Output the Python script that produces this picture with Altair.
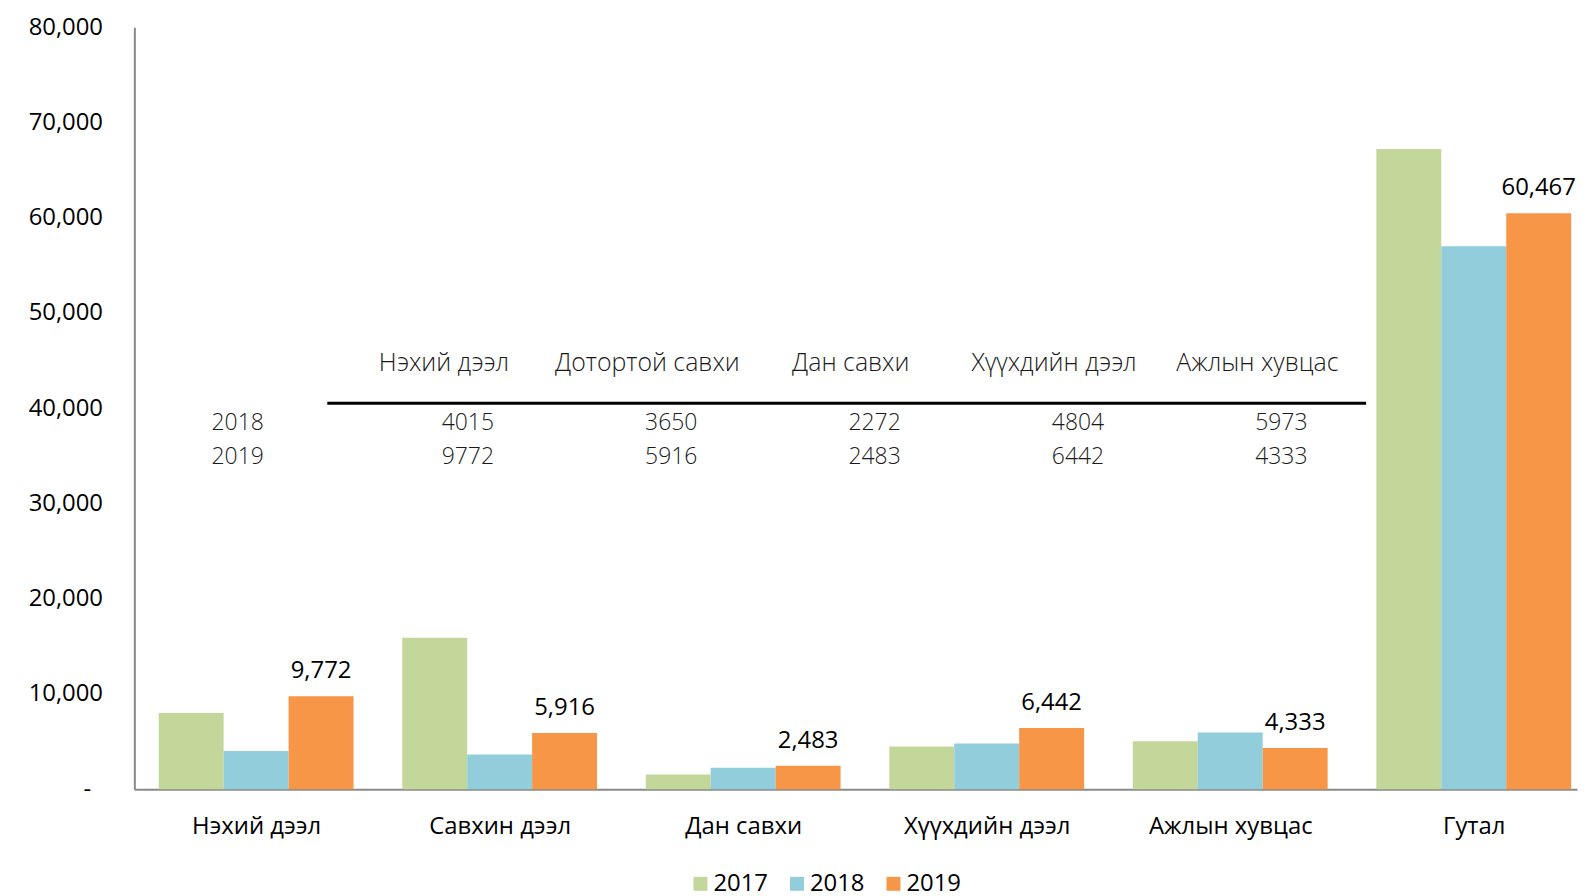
import altair as alt
import pandas as pd
import json

# ---------------- data ----------------
categories = ["Нэхий дээл", "Савхин дээл", "Дан савхи", "Хүүхдийн дээл", "Ажлын хувцас", "Гутал"]
years = ["2017", "2018", "2019"]
v2017 = [8000, 15900, 1550, 4500, 5050, 67200]
v2018 = [4015, 3650, 2272, 4804, 5973, 57000]
v2019 = [9772, 5916, 2483, 6442, 4333, 60467]
colors = ["#c4d79b", "#92cddc", "#f79646"]

table_headers = ["Нэхий дээл", "Дотортой савхи", "Дан савхи", "Хүүхдийн дээл", "Ажлын хувцас"]
table_row_labels = ["2018", "2019"]
table_2018 = [4015, 3650, 2272, 4804, 5973]
table_2019 = [9772, 5916, 2483, 6442, 4333]

y_ticks = [0, 10000, 20000, 30000, 40000, 50000, 60000, 70000, 80000]

# ---------------- frames ----------------
rows = []
for yi, (yr, vals) in enumerate(zip(years, [v2017, v2018, v2019])):
    for ci, (c, v) in enumerate(zip(categories, vals)):
        rows.append({"cat": c, "ci": ci, "year": yr, "yi": yi, "value": v})
df = pd.DataFrame(rows)

hdr_df = pd.DataFrame({"col": list(range(1, len(table_headers) + 1)), "text": table_headers})
lab_df = pd.DataFrame({"col": [0, 0], "row": [0, 1], "text": table_row_labels})
val_rows = []
for r, vals in enumerate([table_2018, table_2019]):
    for c, v in enumerate(vals):
        val_rows.append({"col": c + 1, "row": r, "text": str(v)})
val_df = pd.DataFrame(val_rows)

FONT = "Open Sans"
W, H = 1450, 766
GROUP = 0.8          # fraction of category band used by the bar group
BW = GROUP / 3       # single bar width (category units)
X_MAX = 5.424        # right end of the visible x range (plot is cut at the right)
TBL_X0, TBL_DX = -0.0351, 0.8351   # table column layout (category units)

x_scale = alt.Scale(domain=[-0.5, X_MAX], nice=False, zero=False)
y_scale = alt.Scale(domain=[0, 80000], nice=False)

label_expr = json.dumps(categories, ensure_ascii=False) + "[datum.value]"

x_axis = alt.Axis(values=list(range(len(categories))), labelExpr=label_expr, labelAngle=0,
                  ticks=False, grid=False, labelPadding=25, labelFontSize=24, labelFont=FONT,
                  labelColor="#000000", domainColor="#8a8a8a", domainWidth=2, labelLimit=400,
                  labelFlush=False)
y_axis = alt.Axis(values=y_ticks, grid=False, ticks=False,
                  labelPadding=alt.condition("datum.value == 0", alt.value(44), alt.value(32)),
                  labelFontSize=24,
                  labelFont=FONT, labelColor="#000000", domainColor="#8a8a8a", domainWidth=2,
                  labelExpr="datum.value == 0 ? '-' : format(datum.value, ',')")

bars = alt.Chart(df).transform_calculate(
    x0=f"datum.ci - {GROUP/2} + datum.yi * {BW}",
).transform_calculate(
    x1=f"datum.x0 + {BW}",
).mark_rect().encode(
    x=alt.X("x0:Q", scale=x_scale, axis=x_axis, title=None),
    x2="x1:Q",
    y=alt.Y("value:Q", scale=y_scale, axis=y_axis, title=None),
    y2=alt.datum(0),
    color=alt.Color(
        "year:N", sort=years,
        scale=alt.Scale(domain=years, range=colors),
        legend=alt.Legend(title=None, orient="none", legendX=557, legendY=849, direction="horizontal",
                          symbolType="square", symbolSize=196, symbolStrokeWidth=0,
                          labelFontSize=24, labelFont=FONT, labelColor="#000000",
                          labelOffset=1, columnPadding=17),
    ),
)

labels = alt.Chart(df).transform_filter(alt.datum.year == "2019").transform_calculate(
    xc=f"datum.ci - {GROUP/2} + datum.yi * {BW} + {BW/2}"
).mark_text(baseline="alphabetic", dy=-18, fontSize=24, font=FONT, color="#000000").encode(
    x=alt.X("xc:Q"),
    y=alt.Y("value:Q"),
    text=alt.Text("value:Q", format=",.0f"),
)

txt_style = dict(font=FONT, fontWeight=300, color="#1a1a1a", baseline="middle")
col_calc = f"{TBL_X0} + datum.col * {TBL_DX}"

hdr = alt.Chart(hdr_df).transform_calculate(tx=col_calc).mark_text(dx=-7, fontSize=25, **txt_style).encode(
    x=alt.X("tx:Q"), y=alt.value(338), text="text:N")
row18 = alt.Chart(lab_df).transform_filter(alt.datum.row == 0).transform_calculate(tx=col_calc).mark_text(
    dx=-10, fontSize=23, **txt_style).encode(x=alt.X("tx:Q"), y=alt.value(398), text="text:N")
row19 = alt.Chart(lab_df).transform_filter(alt.datum.row == 1).transform_calculate(tx=col_calc).mark_text(
    dx=-10, fontSize=23, **txt_style).encode(x=alt.X("tx:Q"), y=alt.value(432), text="text:N")
val18 = alt.Chart(val_df).transform_filter(alt.datum.row == 0).transform_calculate(tx=col_calc).mark_text(
    dx=17, fontSize=23, **txt_style).encode(x=alt.X("tx:Q"), y=alt.value(398), text="text:N")
val19 = alt.Chart(val_df).transform_filter(alt.datum.row == 1).transform_calculate(tx=col_calc).mark_text(
    dx=17, fontSize=23, **txt_style).encode(x=alt.X("tx:Q"), y=alt.value(432), text="text:N")

line = alt.Chart(pd.DataFrame({"a": [0]})).transform_calculate(
    s=f"{TBL_X0} + 0.392 * {TBL_DX}", e=f"{TBL_X0} + 5.5 * {TBL_DX}"
).mark_rule(color="#000000", strokeWidth=3).encode(
    x=alt.X("s:Q"), x2="e:Q", y=alt.value(378))

chart = alt.layer(bars, labels, hdr, line, row18, row19, val18, val19).properties(
    width=W, height=H,
    background="#ffffff",
    autosize=alt.AutoSizeParams(type="none"),
    padding={"left": 127, "top": 17, "right": 4, "bottom": 112},
).configure_view(stroke=None)

chart.save("out.html", embed_options={"renderer": "svg", "actions": False})
